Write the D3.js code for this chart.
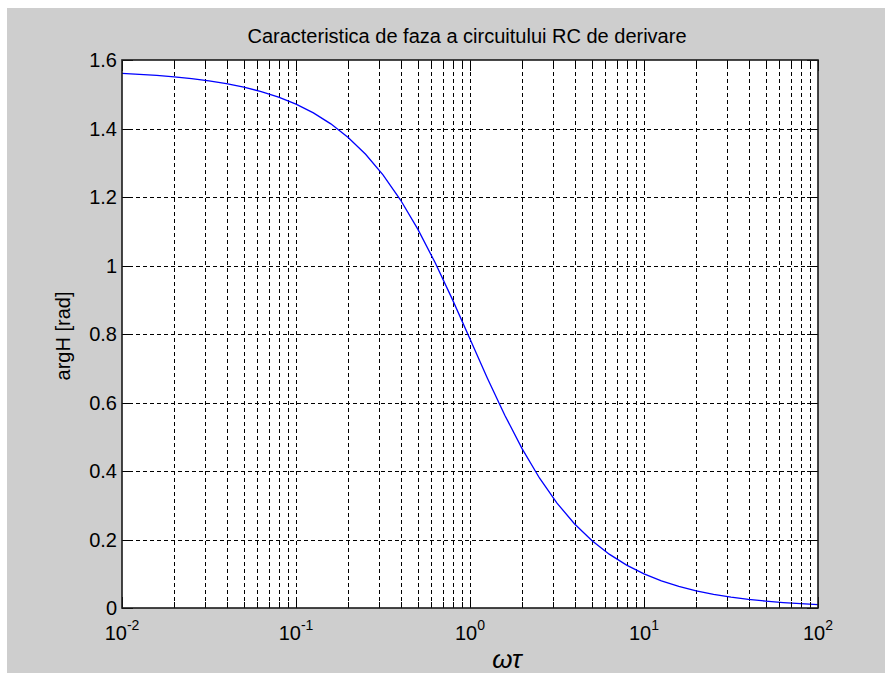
<!DOCTYPE html>
<html>
<head>
<meta charset="utf-8">
<script src="https://cdn.jsdelivr.net/npm/d3@7/dist/d3.min.js"></script>
<style>
  html, body { margin: 0; padding: 0; background: #ffffff; }
  svg { display: block; }
  text { font-family: "Liberation Sans", Arial, sans-serif; fill: #000; }
</style>
</head>
<body>
<svg id="chart" width="888" height="673"></svg>
<script>
// Phase response of the RC differentiator: argH versus omega*tau
const omegaTau = [
  0.01, 0.012589, 0.015849, 0.019953, 0.025119, 0.031623, 0.039811, 0.050119, 0.063096, 0.079433,
  0.1, 0.12589, 0.15849, 0.19953, 0.25119, 0.31623, 0.39811, 0.50119, 0.63096, 0.79433,
  1, 1.2589, 1.5849, 1.9953, 2.5119, 3.1623, 3.9811, 5.0119, 6.3096, 7.9433,
  10, 12.589, 15.849, 19.953, 25.119, 31.623, 39.811, 50.119, 63.096, 79.433, 100
];
const argH = [
  1.5608, 1.5582, 1.5550, 1.5508, 1.5457, 1.5392, 1.5310, 1.5207, 1.5078, 1.4915,
  1.4711, 1.4456, 1.4136, 1.3738, 1.3247, 1.2645, 1.1919, 1.1062, 1.0079, 0.8997,
  0.7854, 0.6711, 0.5629, 0.4646, 0.3789, 0.3063, 0.2461, 0.1970, 0.1572, 0.1252,
  0.0997, 0.0793, 0.0630, 0.0501, 0.0398, 0.0316, 0.0251, 0.0200, 0.0158, 0.0126, 0.0100
];
const xMajorTicks = [0.01, 0.1, 1, 10, 100];
const xMajorExponents = ["-2", "-1", "0", "1", "2"];
const yTicks = [0, 0.2, 0.4, 0.6, 0.8, 1, 1.2, 1.4, 1.6];
const yTickLabels = ["0", "0.2", "0.4", "0.6", "0.8", "1", "1.2", "1.4", "1.6"];
const titleText = "Caracteristica de faza a circuitului RC de derivare";
const yLabelText = "argH [rad]";
const xLabelText = "ωτ";

const svg = d3.select("#chart");
const plotL = 122, plotR = 818, plotT = 60, plotB = 608;

const x = d3.scaleLog().domain([0.01, 100]).range([plotL, plotR]);
const y = d3.scaleLinear().domain([0, 1.6]).range([plotB, plotT]);

// minor decade subdivisions 2..9
const xMinorTicks = [];
for (let e = -2; e < 2; e++) {
  for (let m = 2; m <= 9; m++) xMinorTicks.push(m * Math.pow(10, e));
}

// figure background
svg.append("rect").attr("x", 7).attr("y", 8).attr("width", 878).attr("height", 665)
  .attr("fill", "#cecece");

// plot area
svg.append("rect").attr("x", plotL).attr("y", plotT).attr("width", plotR - plotL).attr("height", plotB - plotT)
  .attr("fill", "#ffffff");

// grid
const grid = svg.append("g").attr("stroke", "#000").attr("stroke-width", 1)
  .attr("stroke-dasharray", "4,3").attr("fill", "none").attr("shape-rendering", "crispEdges");
const xGridVals = xMinorTicks.concat(xMajorTicks.filter(v => v > 0.01 && v < 100));
grid.selectAll("line.vx").data(xGridVals).join("line").attr("class", "vx")
  .attr("x1", d => Math.round(x(d)) + 0.5).attr("x2", d => Math.round(x(d)) + 0.5)
  .attr("y1", plotB).attr("y2", plotT);
grid.selectAll("line.hy").data(yTicks.filter(v => v > 0 && v < 1.6)).join("line").attr("class", "hy")
  .attr("y1", d => Math.round(y(d)) + 0.5).attr("y2", d => Math.round(y(d)) + 0.5)
  .attr("x1", plotL).attr("x2", plotR);

// curve
const line = d3.line().x((d, i) => x(omegaTau[i])).y(d => y(d));
svg.append("path").datum(argH).attr("d", line)
  .attr("fill", "none").attr("stroke", "#0000ff").attr("stroke-width", 1.3);

// axes with inward ticks on all four sides
function styleAxis(g) {
  g.select(".domain").remove();
  g.selectAll(".tick line").attr("stroke", "#000").attr("stroke-width", 1).attr("shape-rendering", "crispEdges");
}
svg.append("g").attr("transform", `translate(0,${plotB})`)
  .call(d3.axisBottom(x).tickValues(xMajorTicks).tickSize(-11).tickFormat("")).call(styleAxis);
svg.append("g").attr("transform", `translate(0,${plotB})`)
  .call(d3.axisBottom(x).tickValues(xMinorTicks).tickSize(-6).tickFormat("")).call(styleAxis);
svg.append("g").attr("transform", `translate(0,${plotT})`)
  .call(d3.axisTop(x).tickValues(xMajorTicks).tickSize(-11).tickFormat("")).call(styleAxis);
svg.append("g").attr("transform", `translate(0,${plotT})`)
  .call(d3.axisTop(x).tickValues(xMinorTicks).tickSize(-6).tickFormat("")).call(styleAxis);
svg.append("g").attr("transform", `translate(${plotL},0)`)
  .call(d3.axisLeft(y).tickValues(yTicks).tickSize(-11).tickFormat("")).call(styleAxis);
svg.append("g").attr("transform", `translate(${plotR},0)`)
  .call(d3.axisRight(y).tickValues(yTicks).tickSize(-11).tickFormat("")).call(styleAxis);

// box
svg.append("rect").attr("x", plotL).attr("y", plotT).attr("width", plotR - plotL).attr("height", plotB - plotT)
  .attr("fill", "none").attr("stroke", "#1a1a1a").attr("stroke-width", 1.6);

// y tick labels
svg.append("g").selectAll("text").data(yTicks).join("text")
  .attr("x", plotL - 5).attr("y", d => y(d)).attr("dy", "0.36em")
  .attr("text-anchor", "end").attr("font-size", 20)
  .text((d, i) => yTickLabels[i]);

// x tick labels as powers of ten
const xl = svg.append("g").selectAll("text").data(xMajorTicks).join("text")
  .attr("x", d => x(d)).attr("y", 640).attr("text-anchor", "middle").attr("font-size", 20);
xl.append("tspan").text("10");
xl.append("tspan").attr("dy", -10).attr("font-size", 14).text((d, i) => xMajorExponents[i]);

// title and axis labels
svg.append("text").attr("x", 467).attr("y", 43).attr("text-anchor", "middle")
  .attr("font-size", 20).text(titleText);
svg.append("text").attr("transform", "translate(70,336) rotate(-90)").attr("text-anchor", "middle")
  .attr("font-size", 20).text(yLabelText);
svg.append("text").attr("x", 507).attr("y", 668).attr("text-anchor", "middle")
  .attr("font-family", "'Liberation Serif', 'Times New Roman', serif").attr("font-style", "italic")
  .attr("font-size", 26).text(xLabelText);
</script>
</body>
</html>
